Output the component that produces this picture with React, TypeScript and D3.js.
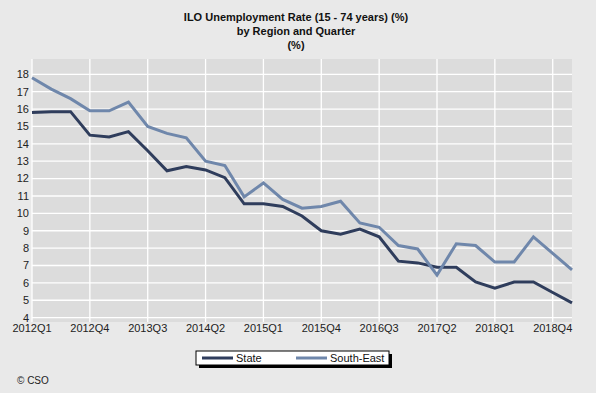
import React from 'react';
import * as d3 from 'd3';

const quarters = [
  '2012Q1', '2012Q2', '2012Q3', '2012Q4', '2013Q1', '2013Q2', '2013Q3', '2013Q4',
  '2014Q1', '2014Q2', '2014Q3', '2014Q4', '2015Q1', '2015Q2', '2015Q3', '2015Q4',
  '2016Q1', '2016Q2', '2016Q3', '2016Q4', '2017Q1', '2017Q2', '2017Q3', '2017Q4',
  '2018Q1', '2018Q2', '2018Q3', '2018Q4', '2019Q1',
];
const stateValues = [
  15.8, 15.85, 15.85, 14.5, 14.4, 14.7, 13.6, 12.45, 12.7, 12.5, 12.05, 10.55, 10.55, 10.4, 9.85,
  9.0, 8.8, 9.1, 8.65, 7.25, 7.15, 6.9, 6.9, 6.05, 5.7, 6.05, 6.05, 5.45, 4.85,
];
const southEastValues = [
  17.8, 17.15, 16.6, 15.9, 15.9, 16.4, 15.0, 14.6, 14.35, 13.0, 12.75, 10.95, 11.75, 10.8, 10.3,
  10.4, 10.7, 9.45, 9.2, 8.15, 7.95, 6.45, 8.25, 8.15, 7.2, 7.2, 8.65, 7.7, 6.75,
];
const yTicks = [4, 5, 6, 7, 8, 9, 10, 11, 12, 13, 14, 15, 16, 17, 18];
const xTickLabels = ['2012Q1', '2012Q4', '2013Q3', '2014Q2', '2015Q1', '2015Q4', '2016Q3', '2017Q2', '2018Q1', '2018Q4'];
const titleLines = ['ILO Unemployment Rate (15 - 74 years) (%)', 'by Region and Quarter', '(%)'];

const W = 596;
const H = 393;
const plot = { left: 32, right: 572, top: 59, bottom: 322 };
const font = 'Arial, "Liberation Sans", sans-serif';

const series = [
  { name: 'State', values: stateValues, color: '#2f3d5c' },
  { name: 'South-East', values: southEastValues, color: '#6f87ab' },
];

const App: React.FC = () => {
  const x = d3.scalePoint<string>().domain(quarters).range([plot.left, plot.right]);
  const y = d3.scaleLinear().domain([3.75, 18.88]).range([plot.bottom, plot.top]);

  const line = d3.line<number>()
    .x((_, i) => x(quarters[i]) as number)
    .y(d => y(d));

  return (
    <div>
      <style>{'body{margin:0}'}</style>
      <svg width={W} height={H} style={{ display: 'block', fontFamily: font }}>
        <rect width={W} height={H} fill="#e9e9e9" />

        {titleLines.map((t, i) => (
          <text key={t} x={296} y={21 + i * 14} textAnchor="middle" fontSize={11} fontWeight="bold" fill="#111">
            {t}
          </text>
        ))}

        <rect x={plot.left} y={plot.top} width={plot.right - plot.left} height={plot.bottom - plot.top} fill="#dcdcdc" />

        {yTicks.map(t => (
          <g key={t}>
            <line x1={plot.left} x2={plot.right} y1={y(t)} y2={y(t)} stroke="#fff" strokeWidth={1.3} />
            <text x={29} y={y(t)} dy="0.35em" textAnchor="end" fontSize={11} fill="#222">{t}</text>
          </g>
        ))}

        {xTickLabels.map(q => (
          <g key={q}>
            <line x1={x(q)} x2={x(q)} y1={plot.top} y2={plot.bottom} stroke="#fff" strokeWidth={1.3} />
            <text x={x(q)} y={332} textAnchor="middle" fontSize={11} fill="#222">{q}</text>
          </g>
        ))}

        {series.map(s => (
          <path key={s.name} d={line(s.values) || ''} fill="none" stroke={s.color} strokeWidth={3} strokeLinejoin="miter" />
        ))}

        <g>
          <rect x={199} y={354} width={193} height={14} fill="#000" />
          <rect x={196} y={351} width={193} height={14} fill="#fff" stroke="#000" strokeWidth={1} />
          {series.map((s, i) => (
            <g key={s.name} transform={`translate(${202 + i * 94},358)`}>
              <line x1={0} x2={31} y1={0} y2={0} stroke={s.color} strokeWidth={3} />
              <text x={34} y={0} dy="0.35em" fontSize={11} fill="#111">{s.name}</text>
            </g>
          ))}
        </g>

        <text x={17} y={384} fontSize={10} fill="#222">© CSO</text>
      </svg>
    </div>
  );
};

export default App;
